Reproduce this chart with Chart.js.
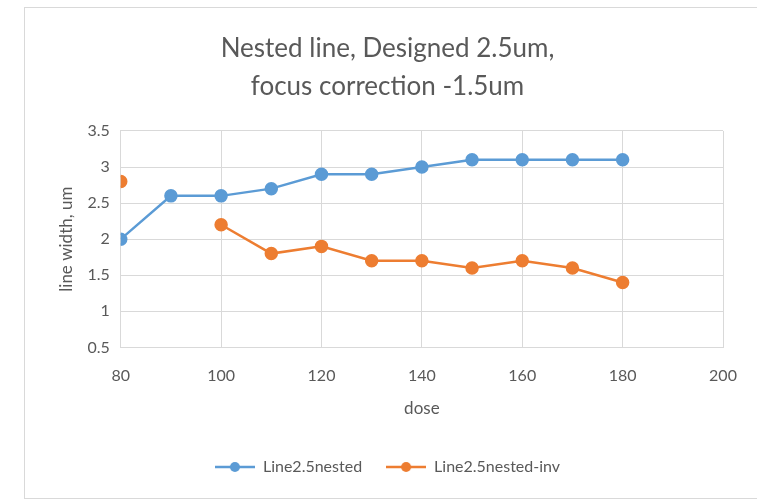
<!DOCTYPE html>
<html>
<head>
<meta charset="utf-8">
<script src="https://cdn.jsdelivr.net/npm/chart.js@4.4.1/dist/chart.umd.min.js"></script>
<style>
  body { margin: 0; background: #fff; }
  #wrap { position: absolute; left: 24px; top: 7px; width: 740px; height: 490px; border: 1px solid #d9d9d9; }
</style>
</head>
<body>
<div id="wrap"><canvas id="chart" width="740" height="490"></canvas></div>
<script>
// dose values and measured line widths
var doses = [80, 90, 100, 110, 120, 130, 140, 150, 160, 170, 180];
var nested = [2.0, 2.6, 2.6, 2.7, 2.9, 2.9, 3.0, 3.1, 3.1, 3.1, 3.1];
var nestedInv = [2.8, null, 2.2, 1.8, 1.9, 1.7, 1.7, 1.6, 1.7, 1.6, 1.4];

var blue = '#5b9bd5';
var orange = '#ed7d31';
var grey = '#595959';

function toPoints(ys) {
	return doses.map(function(d, i) { return { x: d, y: ys[i] }; });
}

function legendIcon(color) {
	var c = document.createElement('canvas');
	c.width = 40; c.height = 12;
	var g = c.getContext('2d');
	g.strokeStyle = color;
	g.lineWidth = 2.5;
	g.beginPath(); g.moveTo(0, 6); g.lineTo(40, 6); g.stroke();
	g.fillStyle = color;
	g.beginPath(); g.arc(20, 6, 5, 0, Math.PI * 2); g.fill();
	return c;
}

var font = "Lato, 'Open Sans', sans-serif";

var config = {
	type    : 'scatter',
	data    : {
		datasets : [
			{
				label            : 'Line2.5nested',
				data             : toPoints(nested),
				borderColor      : blue,
				backgroundColor  : blue,
				showLine         : true,
				borderWidth      : 2.5,
				pointRadius      : 5.5,
				spanGaps         : false
			},
			{
				label            : 'Line2.5nested-inv',
				data             : toPoints(nestedInv),
				borderColor      : orange,
				backgroundColor  : orange,
				showLine         : true,
				borderWidth      : 2.5,
				pointRadius      : 5.5,
				spanGaps         : false
			}
		]
	},
	options : {
		responsive : false,
		animation  : false,
		layout     : { padding : { left : 27, right : 42, top : 22, bottom : 13 } },
		plugins    : {
			title  : {
				display : true,
				text    : ['Nested line, Designed 2.5um,', 'focus correction -1.5um'],
				color   : grey,
				font    : { family : font, size : 26, weight : 'normal', lineHeight : 1.46 },
				padding : { top : 0, bottom : 25 }
			},
			legend : {
				position : 'bottom',
				labels   : {
					color          : grey,
					font           : { family : font, size : 16 },
					usePointStyle  : true,
					pointStyleWidth: 40,
					boxHeight      : 12,
					padding        : 24,
					generateLabels : function(chart) {
						return chart.data.datasets.map(function(ds, i) {
							return {
								text        : ds.label,
								fillStyle   : ds.borderColor,
								strokeStyle : ds.borderColor,
								pointStyle  : legendIcon(ds.borderColor),
								fontColor   : grey,
								datasetIndex: i
							};
						});
					}
				}
			},
			tooltip : { enabled : false }
		},
		scales : {
			x : {
				type  : 'linear',
				min   : 80,
				max   : 200,
				ticks : { stepSize : 20, color : grey, font : { family : font, size : 16 }, padding : 19 },
				grid  : { color : '#d9d9d9', drawTicks : false },
				border: { color : '#d9d9d9' },
				title : { display : true, text : 'dose', color : grey, font : { family : font, size : 17 }, padding : { top : -6, bottom : 16 } }
			},
			y : {
				min   : 0.5,
				max   : 3.5,
				ticks : {
					stepSize : 0.5, color : grey, font : { family : font, size : 16 }, padding : 11,
					callback : function(v) { return String(Number(v.toFixed(1))); }
				},
				grid  : { color : '#d9d9d9', drawTicks : false },
				border: { color : '#d9d9d9' },
				title : { display : true, text : 'line width, um', color : grey, font : { family : font, size : 17 }, padding : { bottom : 0 } }
			}
		}
	}
};

new Chart(document.getElementById('chart').getContext('2d'), config);
</script>
</body>
</html>
